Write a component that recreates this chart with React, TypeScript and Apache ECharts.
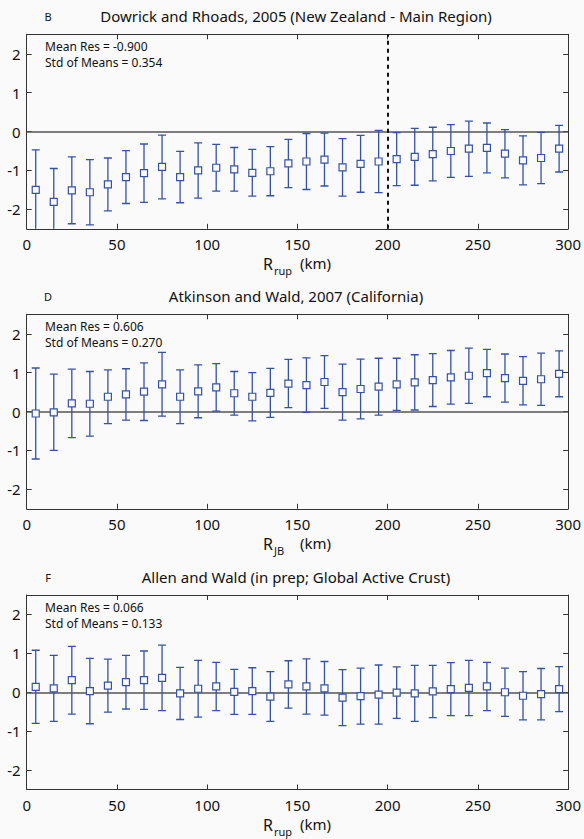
import React, { useEffect, useRef } from "react";
import * as echarts from "echarts";

const distances = [5, 15, 25, 35, 45, 55, 65, 75, 85, 95, 105, 115, 125, 135, 145, 155, 165, 175, 185, 195, 205, 215, 225, 235, 245, 255, 265, 275, 285, 295];

const dowrickMean = [-1.50, -1.81, -1.51, -1.56, -1.36, -1.17, -1.07, -0.91, -1.17, -1.00, -0.93, -0.97, -1.06, -1.02, -0.82, -0.77, -0.72, -0.92, -0.83, -0.77, -0.71, -0.65, -0.58, -0.50, -0.44, -0.42, -0.57, -0.74, -0.68, -0.44];
const dowrickErr = [1.03, 0.86, 0.86, 0.84, 0.68, 0.68, 0.75, 0.82, 0.66, 0.71, 0.60, 0.56, 0.60, 0.63, 0.62, 0.72, 0.68, 0.74, 0.73, 0.80, 0.68, 0.73, 0.69, 0.68, 0.71, 0.64, 0.62, 0.63, 0.66, 0.60];

const atkinsonMean = [-0.05, -0.02, 0.21, 0.20, 0.38, 0.44, 0.51, 0.70, 0.38, 0.52, 0.62, 0.47, 0.38, 0.48, 0.72, 0.68, 0.76, 0.50, 0.58, 0.64, 0.70, 0.75, 0.81, 0.88, 0.92, 0.99, 0.86, 0.79, 0.83, 0.97];
const atkinsonErr = [1.17, 0.98, 0.88, 0.83, 0.69, 0.66, 0.74, 0.82, 0.69, 0.68, 0.61, 0.56, 0.62, 0.63, 0.62, 0.70, 0.68, 0.72, 0.77, 0.73, 0.67, 0.71, 0.68, 0.69, 0.71, 0.61, 0.62, 0.62, 0.67, 0.59];

const allenMean = [0.14, 0.10, 0.31, 0.03, 0.17, 0.26, 0.31, 0.37, -0.03, 0.09, 0.15, 0.01, 0.03, -0.11, 0.20, 0.15, 0.10, -0.14, -0.10, -0.06, -0.01, -0.03, 0.02, 0.08, 0.11, 0.15, 0.00, -0.09, -0.05, 0.08];
const allenErr = [0.94, 0.85, 0.87, 0.84, 0.68, 0.69, 0.75, 0.84, 0.67, 0.73, 0.62, 0.58, 0.60, 0.64, 0.61, 0.71, 0.69, 0.72, 0.72, 0.76, 0.66, 0.72, 0.67, 0.68, 0.71, 0.62, 0.62, 0.62, 0.66, 0.58];

const panelLetters = ["B", "D", "F"];
const panelTitles = [
  "Dowrick and Rhoads, 2005 (New Zealand - Main Region)",
  "Atkinson and Wald, 2007 (California)",
  "Allen and Wald (in prep; Global Active Crust)",
];
const meanResLabels = ["Mean Res = -0.900", "Mean Res = 0.606", "Mean Res = 0.066"];
const stdLabels = ["Std of Means = 0.354", "Std of Means = 0.270", "Std of Means = 0.133"];
const xSubscripts = ["rup", "JB", "rup"];
const yTicks = [-2, -1, 0, 1, 2];

const BLUE = "#3452a6";
const BG = "#fafafa";
const FONT = "'Noto Sans', 'DejaVu Sans', sans-serif";

const panels = [
  { mean: dowrickMean, err: dowrickErr, top: 34.3, vline: 200 },
  { mean: atkinsonMean, err: atkinsonErr, top: 314.3, vline: null },
  { mean: allenMean, err: allenErr, top: 595, vline: null },
];
const GRID_LEFT = 26.7;
const GRID_RIGHT = 14;
const GRID_H = 194.5;

function renderItem(params: any, api: any) {
  const x = api.value(0);
  const m = api.value(1);
  const e = api.value(2);
  const t = api.coord([x, m + e]);
  const b = api.coord([x, m - e]);
  const c = api.coord([x, m]);
  const cap = 4;
  const sq = 3.5;
  const ls = { stroke: BLUE, lineWidth: 1.3 };
  return {
    type: "group",
    children: [
      { type: "line", shape: { x1: t[0], y1: t[1], x2: b[0], y2: b[1] }, style: ls },
      { type: "line", shape: { x1: t[0] - cap, y1: t[1], x2: t[0] + cap, y2: t[1] }, style: ls },
      { type: "line", shape: { x1: b[0] - cap, y1: b[1], x2: b[0] + cap, y2: b[1] }, style: ls },
      {
        type: "rect",
        shape: { x: c[0] - sq, y: c[1] - sq, width: 2 * sq, height: 2 * sq },
        style: { fill: BG, stroke: BLUE, lineWidth: 1.2 },
      },
    ],
  };
}

function txt(text: string, x: number, y: number, size: number, align = "left") {
  return {
    type: "text",
    z: 100,
    style: {
      text,
      x,
      y,
      fill: "#111",
      fontSize: size,
      fontFamily: FONT,
      textAlign: align,
      align,
      textVerticalAlign: "middle",
      verticalAlign: "middle",
    },
  };
}

export default function App() {
  const ref = useRef<HTMLDivElement>(null);
  useEffect(() => {
    if (!ref.current) return;
    const chart = echarts.init(ref.current, undefined, { renderer: "svg" });
    const grid: any[] = [];
    const xAxis: any[] = [];
    const yAxis: any[] = [];
    const series: any[] = [];
    const graphic: any[] = [];
    const axisLine = { show: true, onZero: false, lineStyle: { color: "#333", width: 1 } };
    const tick = { show: true, inside: true, length: 5, lineStyle: { color: "#333" } };
    panels.forEach((p, i) => {
      grid.push({ left: GRID_LEFT, right: GRID_RIGHT, top: p.top, height: GRID_H, show: true, backgroundColor: BG, borderWidth: 0 });
      xAxis.push({
        gridIndex: i, type: "value", min: 0, max: 300, interval: 50, position: "bottom",
        axisLine, axisTick: tick, splitLine: { show: false },
        axisLabel: { color: "#111", fontSize: 15, fontFamily: FONT, margin: 8 },
      });
      xAxis.push({
        gridIndex: i, type: "value", min: 0, max: 300, interval: 50, position: "top",
        axisLine, axisTick: tick, splitLine: { show: false }, axisLabel: { show: false },
      });
      yAxis.push({
        gridIndex: i, type: "value", min: -2.5, max: 2.5, position: "left",
        axisLine, axisTick: { ...tick, customValues: yTicks }, splitLine: { show: false },
        axisLabel: { color: "#111", fontSize: 15, fontFamily: FONT, margin: 6, customValues: yTicks },
      });
      yAxis.push({
        gridIndex: i, type: "value", min: -2.5, max: 2.5, position: "right",
        axisLine, axisTick: { ...tick, customValues: yTicks }, splitLine: { show: false },
        axisLabel: { show: false, customValues: yTicks },
      });
      const markData: any[] = [{ yAxis: 0, lineStyle: { color: "#555", width: 1.5, type: "solid" } }];
      if (p.vline !== null) {
        markData.push({ xAxis: p.vline, lineStyle: { color: "#111", width: 2, type: [4, 4] } });
      }
      series.push({
        type: "custom",
        xAxisIndex: 2 * i,
        yAxisIndex: 2 * i,
        clip: true,
        renderItem,
        data: distances.map((d, k) => [d, p.mean[k], p.err[k]]),
        markLine: { silent: true, symbol: "none", label: { show: false }, data: markData, z: 1 },
        z: 5,
      });
      const top = p.top;
      const bottom = top + GRID_H;
      graphic.push(txt(panelLetters[i], 48, top - 18, 11, "center"));
      graphic.push(txt(panelTitles[i], 296, top - 18, 15, "center"));
      graphic.push(txt(meanResLabels[i], 45, top + 12.5, 12));
      graphic.push(txt(stdLabels[i], 45, top + 28, 12));
      graphic.push(txt("R", 263, bottom + 35, 16));
      graphic.push(txt(xSubscripts[i], 274, bottom + 41.5, 11));
      graphic.push(txt("(km)", 300, bottom + 34, 15));
    });
    chart.setOption({
      animation: false,
      backgroundColor: BG,
      grid,
      xAxis,
      yAxis,
      series,
      graphic,
    });
    return () => chart.dispose();
  }, []);
  return (
    <div
      ref={ref}
      style={{ position: "absolute", left: 0, top: 0, width: 584, height: 839, background: BG }}
    />
  );
}
